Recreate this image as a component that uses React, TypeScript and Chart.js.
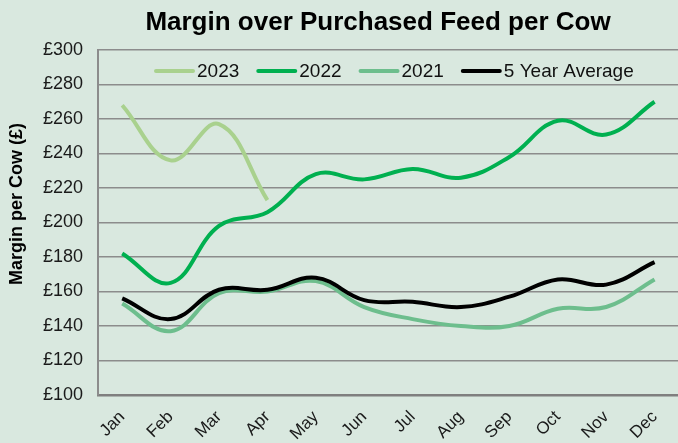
import React, { useEffect, useRef } from "react";
import { Chart, registerables } from "chart.js";

Chart.register(...registerables);

const months = ["Jan", "Feb", "Mar", "Apr", "May", "Jun", "Jul", "Aug", "Sep", "Oct", "Nov", "Dec"];
const y2023 = [268, 236, 257, 213];
const y2022 = [182, 165, 198, 206, 228, 225, 231, 226, 238, 259, 251, 270];
const y2021 = [153, 137, 159, 160, 166, 151, 144, 140, 140, 150, 151, 167];
const yAvg = [156, 144, 161, 161, 168, 155, 154, 151, 157, 167, 164, 177];
const seriesNames = ["2023", "2022", "2021", "5 Year Average"];
const seriesColors = ["#A9D18E", "#00B050", "#6DBE8D", "#000000"];
const titleText = "Margin over Purchased Feed per Cow";
const yTitleText = "Margin per Cow (£)";

const FONT = '"Liberation Sans", Arial, sans-serif';
const BG = "#D9E8DF";

const overlayPlugin = {
  id: "overlay",
  beforeDraw(chart: any) {
    const ctx = chart.ctx;
    ctx.save();
    ctx.fillStyle = BG;
    ctx.fillRect(0, 0, chart.width, chart.height);
    ctx.restore();
  },
  afterDraw(chart: any) {
    const ctx = chart.ctx;
    ctx.save();
    ctx.fillStyle = "#000";
    ctx.font = `bold 26px ${FONT}`;
    ctx.textAlign = "center";
    ctx.textBaseline = "middle";
    ctx.fillText(titleText, 378, 23);
    ctx.save();
    ctx.translate(17, 204);
    ctx.rotate(-Math.PI / 2);
    ctx.font = `bold 18px ${FONT}`;
    ctx.fillText(yTitleText, 0, 0);
    ctx.restore();
    ctx.font = `19px ${FONT}`;
    ctx.textAlign = "left";
    let x = 154;
    const y = 71;
    seriesNames.forEach((name, i) => {
      ctx.strokeStyle = seriesColors[i];
      ctx.lineWidth = 4;
      ctx.lineCap = "round";
      ctx.beginPath();
      ctx.moveTo(x + 2, y);
      ctx.lineTo(x + 39, y);
      ctx.stroke();
      x += 43;
      ctx.fillStyle = "#111";
      ctx.fillText(name, x, y + 1);
      x += ctx.measureText(name).width + 17;
    });
    ctx.restore();
  },
};

export default function App() {
  const ref = useRef<HTMLCanvasElement | null>(null);
  useEffect(() => {
    if (!ref.current) return;
    const mk = (label: string, data: number[], color: string) => ({
      label,
      data,
      borderColor: color,
      backgroundColor: color,
      borderWidth: 4,
      pointRadius: 0,
      tension: 0.4,
      fill: false,
    });
    const chart = new Chart(ref.current, {
      type: "line",
      data: {
        labels: months,
        datasets: [
          mk(seriesNames[3], yAvg, seriesColors[3]),
          mk(seriesNames[0], y2023, seriesColors[0]),
          mk(seriesNames[1], y2022, seriesColors[1]),
          mk(seriesNames[2], y2021, seriesColors[2]),
        ],
      },
      options: {
        responsive: false,
        animation: false,
        layout: { padding: { top: 50, right: 0, left: 0, bottom: 0 } },
        plugins: { legend: { display: false }, title: { display: false }, tooltip: { enabled: false } },
        scales: {
          x: {
            offset: true,
            grid: { display: false, drawTicks: false },
            border: { display: true, color: "#7f7f7f", width: 2.5 },
            ticks: {
              minRotation: 45,
              maxRotation: 45,
              padding: 12,
              color: "#1a1a1a",
              font: { family: FONT, size: 17 },
            },
            afterFit: (s: any) => {
              s.height = 48;
            },
          },
          y: {
            min: 100,
            max: 300,
            grid: { color: "#8c8c8c", lineWidth: 1.5, drawTicks: false },
            border: { display: true, color: "#8c8c8c", width: 2 },
            ticks: {
              stepSize: 20,
              padding: 15,
              color: "#1a1a1a",
              font: { family: FONT, size: 18 },
              callback: (v: any) => "£" + v,
            },
            afterFit: (s: any) => {
              s.width = 98;
            },
          },
        },
      },
      plugins: [overlayPlugin],
    });
    return () => chart.destroy();
  }, []);
  return (
    <div
      style={{
        position: "fixed",
        left: 0,
        top: 0,
        width: 678,
        height: 443,
        overflow: "hidden",
        background: BG,
      }}
    >
      <canvas ref={ref} width={681} height={443} style={{ display: "block" }} />
    </div>
  );
}
